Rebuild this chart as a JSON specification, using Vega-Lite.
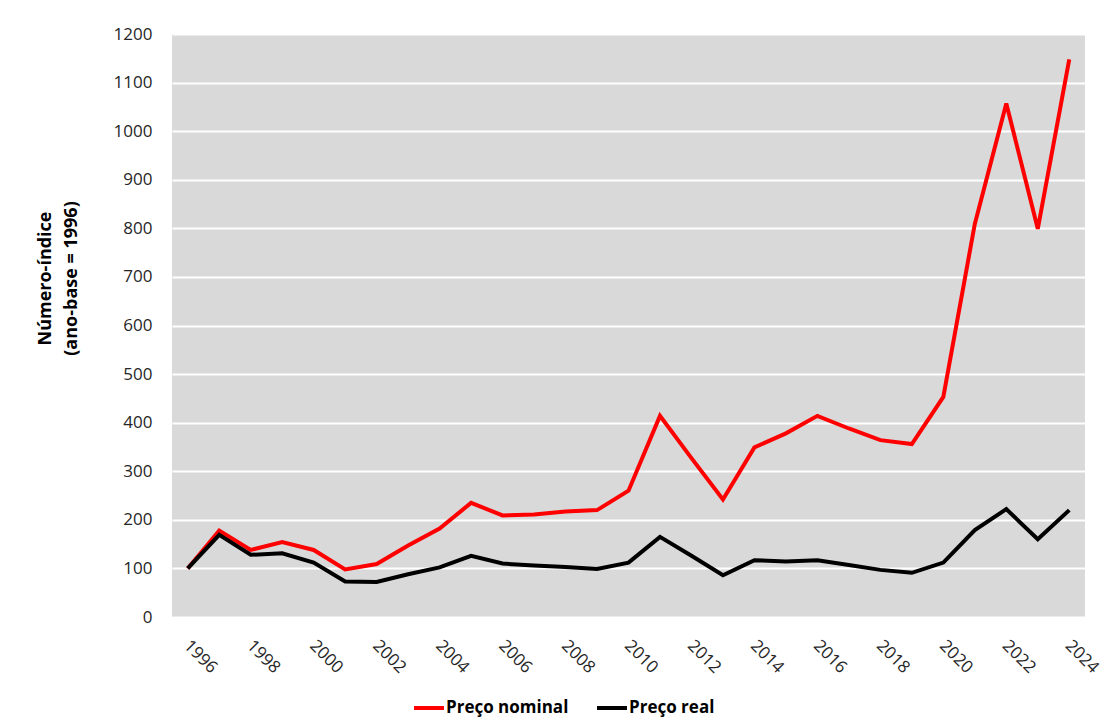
{
  "$schema": "https://vega.github.io/schema/vega-lite/v6.json",
  "autosize": "none",
  "width": 913,
  "height": 583,
  "padding": {"left": 172, "top": 34, "right": 24, "bottom": 110},
  "background": "#ffffff",
  "config": {
    "font": "Open Sans",
    "view": {"fill": "#d9d9d9", "stroke": null},
    "axis": {"domain": false, "ticks": false, "labelColor": "#262626", "labelFontSize": 17, "labelFont": "Open Sans"}
  },
  "data": {
    "values": [
      {"year": 1996, "serie": "Preço nominal", "value": 100},
      {"year": 1997, "serie": "Preço nominal", "value": 178},
      {"year": 1998, "serie": "Preço nominal", "value": 138},
      {"year": 1999, "serie": "Preço nominal", "value": 154},
      {"year": 2000, "serie": "Preço nominal", "value": 138},
      {"year": 2001, "serie": "Preço nominal", "value": 98},
      {"year": 2002, "serie": "Preço nominal", "value": 109},
      {"year": 2003, "serie": "Preço nominal", "value": 147},
      {"year": 2004, "serie": "Preço nominal", "value": 182},
      {"year": 2005, "serie": "Preço nominal", "value": 235},
      {"year": 2006, "serie": "Preço nominal", "value": 209},
      {"year": 2007, "serie": "Preço nominal", "value": 211},
      {"year": 2008, "serie": "Preço nominal", "value": 217},
      {"year": 2009, "serie": "Preço nominal", "value": 220},
      {"year": 2010, "serie": "Preço nominal", "value": 260},
      {"year": 2011, "serie": "Preço nominal", "value": 414},
      {"year": 2012, "serie": "Preço nominal", "value": 327},
      {"year": 2013, "serie": "Preço nominal", "value": 242},
      {"year": 2014, "serie": "Preço nominal", "value": 349},
      {"year": 2015, "serie": "Preço nominal", "value": 378},
      {"year": 2016, "serie": "Preço nominal", "value": 414},
      {"year": 2017, "serie": "Preço nominal", "value": 388},
      {"year": 2018, "serie": "Preço nominal", "value": 364},
      {"year": 2019, "serie": "Preço nominal", "value": 356},
      {"year": 2020, "serie": "Preço nominal", "value": 453},
      {"year": 2021, "serie": "Preço nominal", "value": 809},
      {"year": 2022, "serie": "Preço nominal", "value": 1057},
      {"year": 2023, "serie": "Preço nominal", "value": 799},
      {"year": 2024, "serie": "Preço nominal", "value": 1148},
      {"year": 1996, "serie": "Preço real", "value": 100},
      {"year": 1997, "serie": "Preço real", "value": 169},
      {"year": 1998, "serie": "Preço real", "value": 128},
      {"year": 1999, "serie": "Preço real", "value": 131},
      {"year": 2000, "serie": "Preço real", "value": 112},
      {"year": 2001, "serie": "Preço real", "value": 73},
      {"year": 2002, "serie": "Preço real", "value": 72},
      {"year": 2003, "serie": "Preço real", "value": 88},
      {"year": 2004, "serie": "Preço real", "value": 102},
      {"year": 2005, "serie": "Preço real", "value": 126},
      {"year": 2006, "serie": "Preço real", "value": 110},
      {"year": 2007, "serie": "Preço real", "value": 106},
      {"year": 2008, "serie": "Preço real", "value": 103},
      {"year": 2009, "serie": "Preço real", "value": 99},
      {"year": 2010, "serie": "Preço real", "value": 112},
      {"year": 2011, "serie": "Preço real", "value": 165},
      {"year": 2012, "serie": "Preço real", "value": 126},
      {"year": 2013, "serie": "Preço real", "value": 86},
      {"year": 2014, "serie": "Preço real", "value": 117},
      {"year": 2015, "serie": "Preço real", "value": 114},
      {"year": 2016, "serie": "Preço real", "value": 117},
      {"year": 2017, "serie": "Preço real", "value": 107},
      {"year": 2018, "serie": "Preço real", "value": 97},
      {"year": 2019, "serie": "Preço real", "value": 91},
      {"year": 2020, "serie": "Preço real", "value": 112},
      {"year": 2021, "serie": "Preço real", "value": 179},
      {"year": 2022, "serie": "Preço real", "value": 222},
      {"year": 2023, "serie": "Preço real", "value": 160},
      {"year": 2024, "serie": "Preço real", "value": 220}
    ]
  },
  "mark": {"type": "line", "strokeWidth": 4, "strokeJoin": "miter"},
  "encoding": {
    "x": {
      "field": "year",
      "type": "quantitative",
      "scale": {"domain": [1995.5, 2024.5], "nice": false, "zero": false},
      "axis": {
        "title": null,
        "grid": false,
        "values": [1996, 1998, 2000, 2002, 2004, 2006, 2008, 2010, 2012, 2014, 2016, 2018, 2020, 2022, 2024],
        "format": "d",
        "labelAngle": 45,
        "labelAlign": "left",
        "labelBaseline": "top",
        "labelPadding": 20,
        "labelOffset": 4,
        "labelFlush": false,
        "labelOverlap": false
      }
    },
    "y": {
      "field": "value",
      "type": "quantitative",
      "scale": {"domain": [0, 1200], "nice": false},
      "axis": {
        "title": ["Número-índice", "(ano-base = 1996)"],
        "titleFontSize": 18,
        "titleFontWeight": "bold",
        "titleColor": "#000000",
        "titleFont": "Open Sans",
        "titleLineHeight": 26,
        "titleAngle": -90,
        "titleAlign": "center",
        "titleBaseline": "middle",
        "titleX": -127,
        "titleY": 244,
        "format": "d",
        "values": [0, 100, 200, 300, 400, 500, 600, 700, 800, 900, 1000, 1100, 1200],
        "labelPadding": 20,
        "grid": true,
        "gridColor": "#ffffff",
        "gridWidth": 2
      }
    },
    "color": {
      "field": "serie",
      "type": "nominal",
      "scale": {"domain": ["Preço nominal", "Preço real"], "range": ["#ff0000", "#000000"]},
      "legend": {
        "title": null,
        "orient": "none",
        "direction": "horizontal",
        "legendX": 240,
        "legendY": 657,
        "symbolType": "stroke",
        "symbolSize": 900,
        "symbolStrokeWidth": 4,
        "labelFontSize": 17,
        "labelFontWeight": "bold",
        "labelColor": "#000000",
        "labelFont": "Open Sans",
        "labelOffset": 0,
        "columnPadding": 20
      }
    }
  }
}
